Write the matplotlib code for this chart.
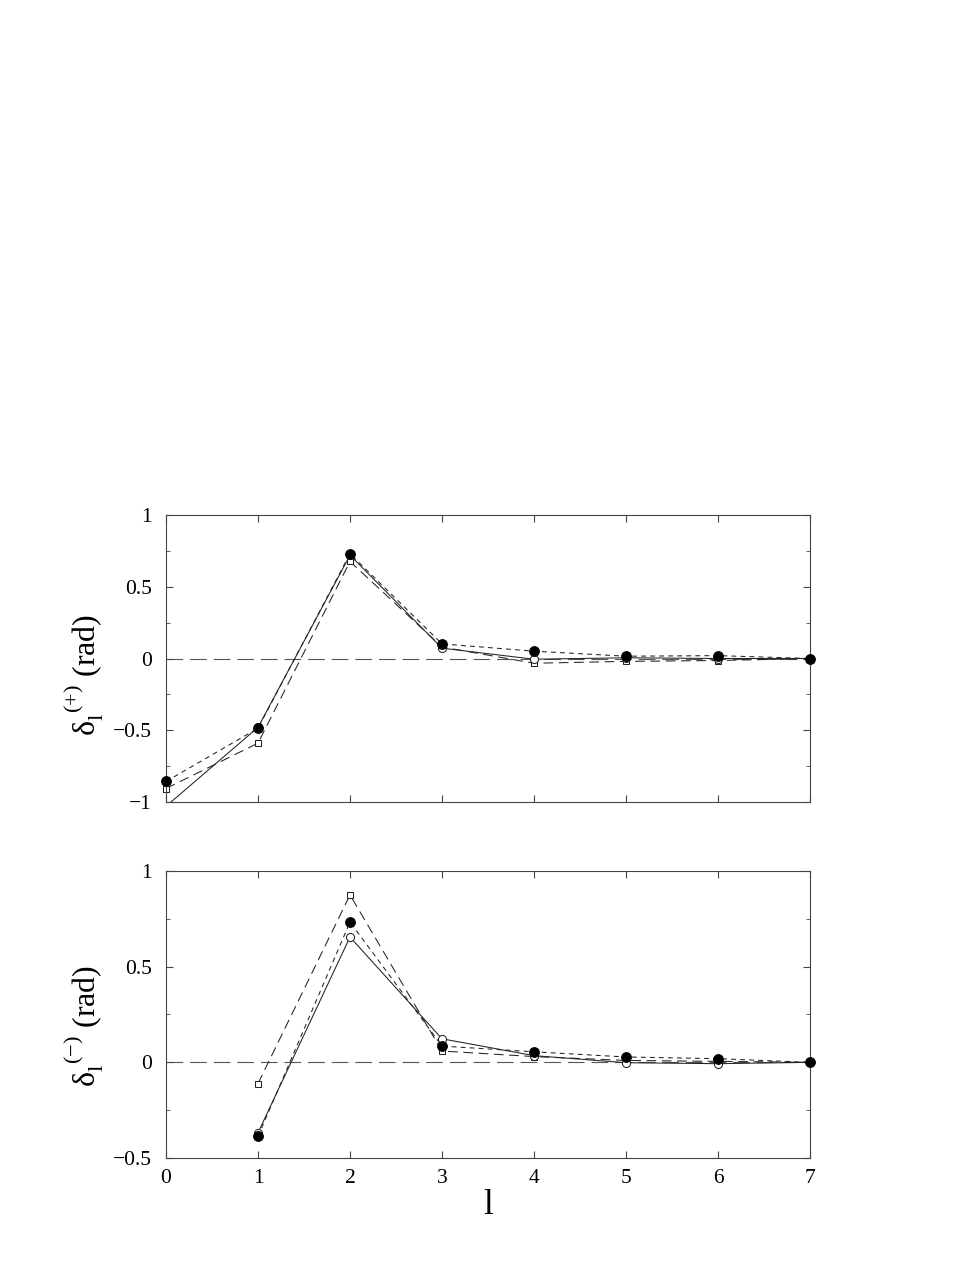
import matplotlib
matplotlib.use("Agg")
import matplotlib.pyplot as plt
import numpy as np

plt.rcParams['font.family'] = ['Liberation Serif', 'DejaVu Serif']
plt.rcParams['mathtext.fontset'] = 'custom'
plt.rcParams['mathtext.rm'] = 'Liberation Serif'
plt.rcParams['mathtext.it'] = 'Liberation Serif'
plt.rcParams['lines.scale_dashes'] = False

# l values
l_top = [0, 1, 2, 3, 4, 5, 6, 7]
l_bot = [1, 2, 3, 4, 5, 6, 7]

# delta^(+) : open circles (solid), filled circles (short dash), squares (long dash)
plus_open = [-1.03, -0.48, 0.72, 0.072, -0.005, 0.005, 0.0, 0.0]
plus_filled = [-0.857, -0.486, 0.73, 0.102, 0.051, 0.016, 0.02, 0.0]
plus_square = [-0.906, -0.59, 0.676, 0.08, -0.033, -0.02, -0.014, 0.0]

# delta^(-)
minus_open = [-0.368, 0.655, 0.123, 0.035, -0.002, -0.007, 0.0]
minus_filled = [-0.387, 0.733, 0.085, 0.055, 0.028, 0.019, 0.0]
minus_square = [-0.111, 0.875, 0.059, 0.03, 0.01, 0.005, 0.0]

fig = plt.figure(figsize=(9.77, 12.64), dpi=100)
W, H = 977.0, 1264.0
ax1 = fig.add_axes([166 / W, 1 - 802 / H, 644 / W, 287 / H])
ax2 = fig.add_axes([166 / W, 1 - 1158 / H, 644 / W, 287 / H])

lc = '#222222'


def series(ax, x, y, ylim, dashes, marker, ms, fc, z):
    x = np.asarray(x, float)
    y = np.asarray(y, float)
    kw = dict(color=lc, lw=0.75, zorder=z)
    if dashes is not None:
        kw['dashes'] = dashes
    ax.plot(x, y, **kw)
    # markers are not clipped at the frame, but points outside the range are dropped
    inside = (y >= ylim[0]) & (y <= ylim[1])
    ax.plot(x[inside], y[inside], ls='none', marker=marker, ms=ms, mfc=fc,
            mec='black' if fc == 'black' else lc, mew=0.75, zorder=z + 0.5,
            clip_on=False)


def draw(ax, x, yo, yf, ys, ylim):
    ax.axhline(0, color='#555555', lw=0.8, dashes=(12, 5), zorder=1)
    series(ax, x, ys, ylim, (7, 4), 's', 4.6, 'white', 2)
    series(ax, x, yo, ylim, None, 'o', 5.8, 'white', 3)
    series(ax, x, yf, ylim, (3.5, 3), 'o', 7.0, 'black', 4)
    ax.set_xlim(0, 7)
    ax.set_ylim(*ylim)
    ax.set_xticks(range(8))
    ax.tick_params(which='both', direction='in', top=True, right=True,
                   labelsize=15.5, color='#444444')
    ax.tick_params(axis='y', which='major', length=5, pad=10)
    ax.tick_params(axis='y', which='minor', length=3)
    ax.tick_params(axis='x', which='major', length=5, pad=8)
    for s in ax.spines.values():
        s.set_color('#444444')
        s.set_linewidth(0.8)


draw(ax1, l_top, plus_open, plus_filled, plus_square, (-1, 1))
ax1.set_yticks([-1, -0.5, 0, 0.5, 1])
ax1.set_yticklabels(['\u22121', '\u22120.5', '0', '0.5', '1'])
ax1.set_yticks(np.arange(-1, 1.01, 0.25), minor=True)
ax1.tick_params(axis='x', labelbottom=False)

draw(ax2, l_bot, minus_open, minus_filled, minus_square, (-0.5, 1))
ax2.set_yticks([-0.5, 0, 0.5, 1])
ax2.set_yticklabels(['\u22120.5', '0', '0.5', '1'])
ax2.set_yticks(np.arange(-0.5, 1.01, 0.25), minor=True)

fig.text(84 / W, 1 - 675 / H, r'$\delta_{\mathrm{l}}^{\ (+)}$ (rad)', rotation=90,
         ha='center', va='center', fontsize=23)
fig.text(84 / W, 1 - 1026 / H, r'$\delta_{\mathrm{l}}^{\ (-)}$ (rad)', rotation=90,
         ha='center', va='center', fontsize=23)
fig.text(488 / W, 1 - 1205 / H, 'l', ha='center', va='center', fontsize=25)

fig.savefig('out.png', dpi=100, facecolor='white')
